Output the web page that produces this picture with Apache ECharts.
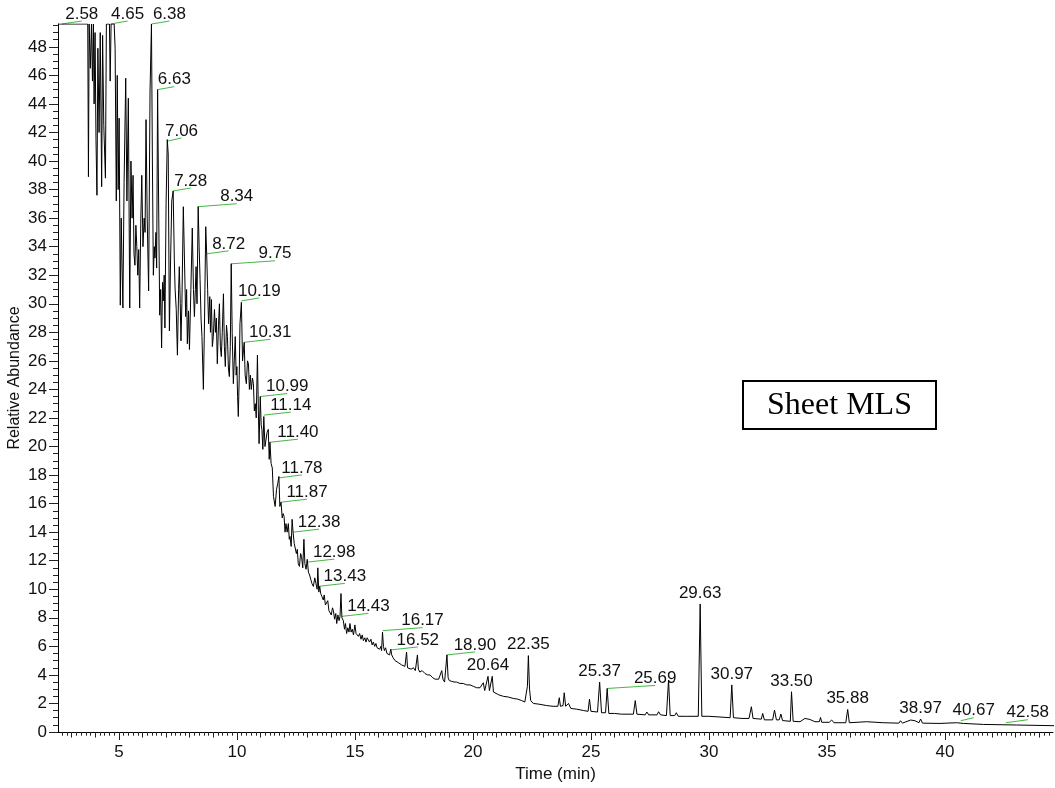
<!DOCTYPE html>
<html><head><meta charset="utf-8">
<script src="https://cdn.jsdelivr.net/npm/echarts@6/dist/echarts.min.js"></script>
<style>html,body{margin:0;padding:0;background:#fff}#c{width:1055px;height:788px}</style>
</head><body><div id="c"></div>
<script>
// ---- data ----
const traceTime = [
2.42,3.68,3.71,3.74,3.79,3.84,3.88,3.92,3.95,3.99,4.03,4.07,4.11,4.16,4.21,4.27,4.31,4.36,4.43,4.47,
4.60,4.63,4.67,4.80,4.84,4.89,4.93,4.97,5.01,5.06,5.10,5.13,5.17,5.22,5.29,5.34,5.40,5.46,5.51,5.56,
5.60,5.64,5.68,5.72,5.76,5.80,5.84,5.88,5.93,5.97,6.02,6.07,6.11,6.15,6.20,6.26,6.32,6.38,6.42,6.46,
6.50,6.53,6.57,6.60,6.64,6.69,6.73,6.77,6.81,6.85,6.88,6.92,6.95,7.00,7.05,7.09,7.14,7.19,7.24,7.30,
7.35,7.38,7.43,7.48,7.53,7.56,7.60,7.63,7.67,7.73,7.78,7.83,7.87,7.90,7.95,7.99,8.05,8.11,8.16,8.20,
8.24,8.27,8.31,8.36,8.40,8.44,8.48,8.52,8.58,8.63,8.68,8.72,8.76,8.80,8.85,8.88,8.92,8.96,9.00,9.05,
9.09,9.13,9.17,9.22,9.26,9.30,9.34,9.38,9.43,9.47,9.51,9.56,9.60,9.64,9.68,9.72,9.76,9.80,9.85,9.89,
9.93,9.97,10.00,10.03,10.06,10.10,10.13,10.19,10.24,10.28,10.31,10.35,10.40,10.45,10.49,10.53,10.57,10.61,10.66,10.70,
10.74,10.78,10.82,10.87,10.91,10.94,10.99,11.03,11.06,11.10,11.14,11.19,11.23,11.28,11.33,11.37,11.40,11.45,11.50,11.55,
11.59,11.62,11.68,11.73,11.78,11.82,11.87,11.92,11.96,12.00,12.04,12.08,12.13,12.18,12.22,12.25,12.30,12.34,12.38,12.43,
12.48,12.52,12.56,12.60,12.65,12.70,12.74,12.79,12.84,12.88,12.93,12.98,13.03,13.08,13.13,13.18,13.24,13.30,13.35,13.40,
13.43,13.47,13.51,13.55,13.60,13.66,13.70,13.75,13.80,13.85,13.90,13.94,14.00,14.05,14.09,14.14,14.19,14.23,14.28,14.33,
14.37,14.41,14.45,14.51,14.56,14.60,14.65,14.70,14.75,14.79,14.84,14.89,14.94,15.00,15.05,15.10,15.15,15.20,15.26,15.31,
15.36,15.42,15.47,15.52,15.57,15.62,15.68,15.73,15.78,15.84,15.89,15.94,15.99,16.05,16.10,16.13,16.17,16.21,16.25,16.30,
16.36,16.42,16.47,16.52,16.56,16.62,16.70,16.78,16.85,16.91,16.98,17.05,17.12,17.19,17.23,17.30,17.38,17.48,17.56,17.65,
17.69,17.75,17.85,17.97,18.08,18.18,18.30,18.40,18.46,18.55,18.62,18.68,18.73,18.80,18.85,18.90,18.95,19.00,19.10,19.20,
19.31,19.45,19.59,19.74,19.88,20.02,20.16,20.30,20.44,20.50,20.55,20.64,20.70,20.75,20.82,20.87,20.95,21.10,21.29,21.50,
21.71,21.90,22.07,22.20,22.27,22.31,22.35,22.40,22.45,22.56,22.80,23.13,23.40,23.60,23.66,23.71,23.82,23.87,23.93,24.05,
24.15,24.40,24.70,24.88,24.94,25.00,25.28,25.37,25.45,25.62,25.69,25.76,26.00,26.30,26.80,26.88,26.95,27.30,27.37,27.45,
27.80,27.87,27.95,28.20,28.29,28.36,28.55,28.62,28.70,29.06,29.55,29.63,29.70,30.00,30.47,30.90,30.97,31.04,31.40,31.70,
31.80,31.87,32.22,32.28,32.35,32.70,32.78,32.86,32.98,33.05,33.12,33.45,33.50,33.57,33.86,34.07,34.28,34.49,34.68,34.73,
34.78,35.10,35.20,35.30,35.80,35.88,35.95,36.68,37.39,38.05,38.12,38.20,38.55,38.73,38.90,38.97,39.05,39.79,40.50,40.78,
41.63,43.04,44.66
];
const traceAbundance = [
49.6,49.6,38.9,49.6,46.5,49.6,45.6,49.6,44.0,49.0,41.5,37.6,47.9,42.0,49.0,38.2,48.8,42.5,38.8,49.6,
49.6,45.6,49.6,49.6,47.9,37.2,46.0,38.0,43.0,29.9,36.0,33.0,29.7,38.5,45.8,37.2,44.4,29.7,40.0,36.0,
39.0,33.5,32.7,35.5,34.0,32.0,33.8,29.7,36.0,39.0,34.0,36.0,35.0,42.9,36.0,30.9,44.9,49.6,40.0,32.0,
34.0,33.2,35.0,32.5,45.0,36.0,29.2,31.0,26.9,31.5,30.2,32.0,28.3,37.0,41.5,40.5,28.1,33.0,37.2,37.9,
33.0,31.1,29.6,26.4,31.0,32.6,30.0,27.4,30.0,36.8,33.0,29.1,31.0,27.2,29.5,26.8,31.0,35.3,31.0,29.1,
31.0,32.6,30.0,36.8,34.0,31.7,29.0,27.7,24.0,29.0,35.4,33.5,31.0,28.6,30.5,28.0,30.3,27.0,27.7,29.6,
28.0,29.0,25.8,28.5,30.0,27.0,26.3,28.0,30.7,27.0,25.6,28.5,27.7,25.5,24.9,27.0,32.8,28.0,24.4,26.0,
27.7,25.0,25.6,23.5,22.1,25.0,28.6,30.1,26.0,26.8,27.3,25.0,24.4,26.0,25.8,24.0,25.0,24.0,24.8,24.4,
22.5,23.0,22.0,26.4,22.5,20.2,23.5,21.5,21.2,19.8,22.1,20.0,20.0,21.0,21.2,19.1,20.3,18.8,18.5,16.5,
16.5,15.8,17.0,17.4,17.9,15.8,16.1,15.0,15.3,15.1,14.0,14.6,14.0,14.6,13.5,13.7,13.0,14.9,14.0,13.2,
13.2,12.5,12.8,11.8,11.6,12.5,12.3,11.5,13.5,11.8,11.4,12.1,11.2,11.0,10.7,10.4,10.2,10.8,10.4,10.0,
11.5,9.8,10.2,9.7,9.5,9.25,9.6,8.9,8.8,9.2,8.5,8.6,8.2,8.7,8.5,7.9,8.3,7.6,8.2,7.8,
8.1,9.7,8.0,7.8,7.2,7.6,6.9,7.3,7.0,7.6,7.0,7.2,6.8,7.5,6.9,7.0,6.7,6.9,6.5,6.8,
6.4,6.6,6.3,6.6,6.7,6.3,6.5,6.1,6.3,6.0,6.2,5.9,6.0,5.8,6.0,5.7,7.0,6.0,5.7,5.9,
5.5,5.6,5.4,5.8,5.4,5.2,5.0,5.1,4.85,4.9,4.7,4.8,4.6,5.6,4.5,4.6,4.4,4.5,4.3,5.4,
4.4,4.2,4.3,4.1,4.0,4.0,3.8,3.7,3.6,3.7,3.6,4.3,3.7,3.5,3.4,5.4,3.8,3.6,3.55,3.5,
3.5,3.4,3.4,3.3,3.3,3.2,3.1,3.1,3.45,2.9,2.8,3.9,2.9,2.8,3.9,2.8,2.7,2.6,2.5,2.45,
2.35,2.3,2.2,2.1,2.0,3.2,5.35,3.0,2.2,2.0,1.95,1.85,1.8,1.8,2.4,1.8,1.85,2.75,1.8,2.0,
1.65,1.6,1.5,1.45,2.3,1.45,1.4,3.5,1.35,1.35,3.05,1.3,1.3,1.25,1.25,2.2,1.25,1.2,1.4,1.2,
1.2,1.42,1.2,1.15,3.64,1.15,1.15,1.35,1.1,1.1,1.1,8.97,1.1,1.1,1.05,1.0,3.3,1.0,0.95,0.95,
1.77,0.95,0.9,1.3,0.85,0.85,1.54,0.85,0.85,1.26,0.8,0.75,2.82,0.75,0.72,0.95,0.88,0.72,0.72,1.02,
0.68,0.68,0.84,0.65,0.65,1.58,0.65,0.72,0.65,0.62,0.79,0.62,0.84,0.79,0.65,0.91,0.62,0.6,0.65,0.6,
0.53,0.49,0.44
];
const peakLabelTexts = ['2.58','4.65','6.38','6.63','7.06','7.28','8.34','8.72','9.75','10.19','10.31','10.99','11.14','11.40','11.78','11.87','12.38','12.98','13.43','14.43','16.17','16.52','18.90','20.64','22.35','25.37','25.69','29.63','30.97','33.50','35.88','38.97','40.67','42.58'];
const peakLabelAbundance = [49.6,49.6,49.6,45.0,41.4,37.9,36.8,33.5,32.8,30.2,27.3,23.5,22.2,20.3,17.8,16.1,14.0,11.9,10.2,8.1,7.1,5.75,5.4,3.9,5.35,3.5,3.05,8.97,3.3,2.8,1.58,0.91,0.79,0.65];
// layout: length (px) of the green leader line for each label, 0 = label sits above the peak
const leaderLengthPx = [20,17,18,17,14,18,39,22,44,18,26,27,27,28,23,26,26,27,27,27,40,27,28,0,0,0,48,0,0,0,0,0,13,22];
const xTickLabels = [5,10,15,20,25,30,35,40];
const yTickLabels = [0,2,4,6,8,10,12,14,16,18,20,22,24,26,28,30,32,34,36,38,40,42,44,46,48];
const boxText = 'Sheet MLS';

const X_MIN = 2.42, X_MAX = 44.58, Y_MIN = 0, Y_MAX = 49.6;
const xInt = []; for (let k = 3; k <= 44; k++) xInt.push(k);
const xMinor = []; for (let k = 13; k <= 222; k++) xMinor.push(Math.round(k * 20) / 100);
const yMinor = []; for (let k = 0; k <= 99; k++) yMinor.push(k / 2);

const FONT = '"Liberation Sans", Arial, sans-serif';
const traceData = traceTime.map((t, i) => [t, traceAbundance[i]]);
const labelData = peakLabelTexts.map((s, i) => [parseFloat(s), peakLabelAbundance[i]]);

function xAx(ticks, len, extra) {
  return Object.assign({
    type: 'value', min: X_MIN, max: X_MAX, position: 'bottom', offset: 0,
    axisLine: { show: false }, splitLine: { show: false },
    axisTick: { show: true, inside: false, length: len, customValues: ticks, lineStyle: { color: '#222', width: 1 } },
    axisLabel: { show: false }
  }, extra || {});
}
function yAx(ticks, len, extra) {
  return Object.assign({
    type: 'value', min: Y_MIN, max: Y_MAX, position: 'left', offset: 0,
    axisLine: { show: false }, splitLine: { show: false },
    axisTick: { show: true, inside: false, length: len, customValues: ticks, lineStyle: { color: '#222', width: 1 } },
    axisLabel: { show: false }
  }, extra || {});
}

const chart = echarts.init(document.getElementById('c'), null, { renderer: 'canvas' });
chart.setOption({
  animation: false,
  backgroundColor: '#fff',
  grid: { left: 58, right: 2, top: 24, bottom: 56, containLabel: false, outerBoundsMode: 'none' },
  xAxis: [
    xAx(xTickLabels, 8, {
      axisLine: { show: true, lineStyle: { color: '#000', width: 1 } },
      axisLabel: { show: true, customValues: xTickLabels, color: '#111', fontSize: 17, fontFamily: FONT, margin: 12 },
      name: 'Time (min)', nameLocation: 'middle', nameGap: 33,
      nameTextStyle: { color: '#111', fontSize: 17, fontFamily: FONT }
    }),
    xAx(xInt, 5.5),
    xAx(xMinor, 3.7)
  ],
  yAxis: [
    yAx(yTickLabels, 9, {
      axisLine: { show: true, lineStyle: { color: '#000', width: 1 } },
      axisLabel: { show: true, customValues: yTickLabels, color: '#111', fontSize: 17, fontFamily: FONT, margin: 11 },
      name: 'Relative Abundance', nameLocation: 'middle', nameGap: 35, nameRotate: 90, nameMoveOverlap: false,
      nameTextStyle: { color: '#111', fontSize: 16, fontFamily: FONT }
    }),
    yAx(yMinor, 5)
  ],
  graphic: [
    {
      type: 'rect', x: 743, y: 381, z: 10,
      shape: { x: 0, y: 0, width: 193, height: 48 },
      style: { fill: '#fff', stroke: '#000', lineWidth: 2 }
    },
    {
      type: 'text', x: 839.5, y: 406, z: 11,
      style: { text: boxText, font: '32px "Liberation Serif", "Times New Roman", serif', fill: '#000', align: 'center', verticalAlign: 'middle' }
    }
  ],
  series: [
    {
      type: 'line', xAxisIndex: 0, yAxisIndex: 0, data: traceData, showSymbol: false, clip: true,
      lineStyle: { color: '#000', width: 1 }, silent: true
    },
    {
      type: 'custom', xAxisIndex: 0, yAxisIndex: 0, data: labelData, clip: false, silent: true,
      renderItem: function (params, api) {
        const i = params.dataIndex;
        const p = api.coord([api.value(0), api.value(1)]);
        const len = leaderLengthPx[i];
        const kids = [];
        if (len > 0) {
          kids.push({ type: 'line', shape: { x1: p[0], y1: p[1], x2: p[0] + len, y2: p[1] - 3 }, style: { stroke: '#44b844', lineWidth: 1 } });
          kids.push({ type: 'text', style: { text: peakLabelTexts[i], x: p[0] + len, y: p[1] - 10, align: 'center', verticalAlign: 'middle', font: '17px ' + FONT, fill: '#111' } });
        } else {
          kids.push({ type: 'text', style: { text: peakLabelTexts[i], x: p[0], y: p[1] - 11, align: 'center', verticalAlign: 'middle', font: '17px ' + FONT, fill: '#111' } });
        }
        return { type: 'group', children: kids };
      }
    }
  ]
});
</script>
</body></html>
